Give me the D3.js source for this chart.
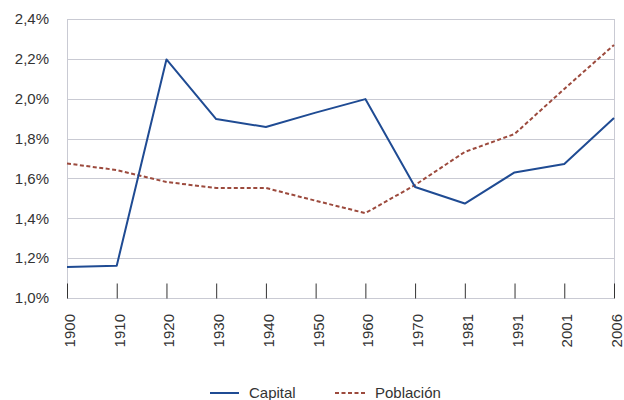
<!DOCTYPE html>
<html>
<head>
<meta charset="utf-8">
<script src="https://cdn.jsdelivr.net/npm/d3@7"></script>
<style>
  body { margin: 0; background: #fff; }
  text { font-family: "Liberation Sans", Arial, sans-serif; fill: #333; }
</style>
</head>
<body>
<script>
var years = ["1900", "1910", "1920", "1930", "1940", "1950", "1960", "1970", "1981", "1991", "2001", "2006"];
var capital = [1.156, 1.162, 2.197, 1.898, 1.858, 1.930, 1.998, 1.557, 1.474, 1.630, 1.672, 1.903];
var poblacion = [1.675, 1.642, 1.582, 1.552, 1.552, 1.488, 1.426, 1.567, 1.733, 1.823, 2.049, 2.270];
var yTicks = [1.0, 1.2, 1.4, 1.6, 1.8, 2.0, 2.2, 2.4];

var width = 624, height = 400;
var margin = { left: 67, right: 10, top: 19, bottom: 102 };

var svg = d3.select("body").append("svg")
  .attr("width", width)
  .attr("height", height);

var x = d3.scalePoint()
  .domain(years)
  .range([margin.left, width - margin.right]);

var y = d3.scaleLinear()
  .domain([1.0, 2.4])
  .range([height - margin.bottom, margin.top]);

// grid
svg.append("g")
  .selectAll("line")
  .data(yTicks)
  .enter()
  .append("line")
  .attr("x1", margin.left)
  .attr("x2", width - margin.right)
  .attr("y1", function (d) { return Math.round(y(d)) + 0.5; })
  .attr("y2", function (d) { return Math.round(y(d)) + 0.5; })
  .attr("stroke", "#c9cad3")
  .attr("stroke-width", 1);

// frame sides
svg.append("line")
  .attr("x1", width - margin.right + 0.5).attr("x2", width - margin.right + 0.5)
  .attr("y1", margin.top).attr("y2", height - margin.bottom)
  .attr("stroke", "#c9cad3");
svg.append("line")
  .attr("x1", margin.left + 0.5).attr("x2", margin.left + 0.5)
  .attr("y1", margin.top).attr("y2", height - margin.bottom)
  .attr("stroke", "#c9cad3");

// y labels
svg.append("g")
  .selectAll("text")
  .data(yTicks)
  .enter()
  .append("text")
  .attr("x", 49)
  .attr("y", function (d) { return y(d); })
  .attr("dy", "0.35em")
  .attr("text-anchor", "end")
  .attr("font-size", 15)
  .text(function (d) { return d3.format(".1f")(d).replace(".", ",") + "%"; });

// x axis ticks (inside)
var xAxis = d3.axisTop(x).tickSize(15).tickFormat("");
var gx = svg.append("g")
  .attr("transform", "translate(0," + (height - margin.bottom + 0.5) + ")")
  .call(xAxis);
gx.select(".domain").attr("stroke", "#c9cad3").attr("d", "M" + margin.left + ",0H" + (width - margin.right));
gx.selectAll(".tick line").attr("stroke", "#333");

// x labels rotated
svg.append("g")
  .selectAll("text")
  .data(years)
  .enter()
  .append("text")
  .attr("transform", function (d) {
    return "translate(" + (x(d) + 8) + "," + (height - margin.bottom + 16) + ") rotate(-90)";
  })
  .attr("text-anchor", "end")
  .attr("font-size", 15)
  .text(function (d) { return d; });

var line = d3.line()
  .x(function (d, i) { return x(years[i]); })
  .y(function (d) { return y(d); });

svg.append("path")
  .datum(poblacion)
  .attr("d", line)
  .attr("fill", "none")
  .attr("stroke", "#9c4a3d")
  .attr("stroke-width", 2)
  .attr("stroke-dasharray", "4,2.5");

svg.append("path")
  .datum(capital)
  .attr("d", line)
  .attr("fill", "none")
  .attr("stroke", "#1f4b93")
  .attr("stroke-width", 2)
  .attr("stroke-linejoin", "round");

// legend
var legend = svg.append("g").attr("transform", "translate(0,393)");
legend.append("line")
  .attr("x1", 210).attr("x2", 239).attr("y1", 0).attr("y2", 0)
  .attr("stroke", "#1f4b93").attr("stroke-width", 2);
legend.append("text")
  .attr("x", 249).attr("y", 0).attr("dy", "0.35em")
  .attr("font-size", 15)
  .text("Capital");
legend.append("line")
  .attr("x1", 335).attr("x2", 366).attr("y1", 0).attr("y2", 0)
  .attr("stroke", "#9c4a3d").attr("stroke-width", 2)
  .attr("stroke-dasharray", "4,2.5");
legend.append("text")
  .attr("x", 375).attr("y", 0).attr("dy", "0.35em")
  .attr("font-size", 15)
  .text("Población");
</script>
</body>
</html>
